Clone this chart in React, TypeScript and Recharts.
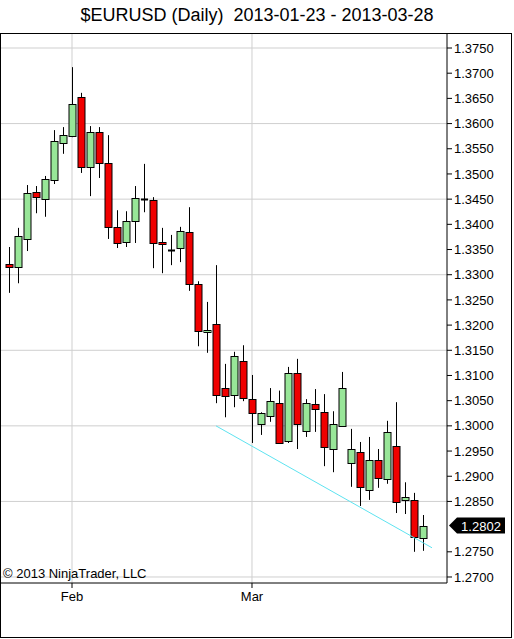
import { ComposedChart, Bar, XAxis, YAxis, CartesianGrid, ReferenceLine } from 'recharts'

// trading days shown on the chart
const days = [
  '2013-01-23', '2013-01-24', '2013-01-25', '2013-01-28', '2013-01-29', '2013-01-30', '2013-01-31',
  '2013-02-01', '2013-02-04', '2013-02-05', '2013-02-06', '2013-02-07', '2013-02-08', '2013-02-11',
  '2013-02-12', '2013-02-13', '2013-02-14', '2013-02-15', '2013-02-18', '2013-02-19', '2013-02-20',
  '2013-02-21', '2013-02-22', '2013-02-25', '2013-02-26', '2013-02-27', '2013-02-28', '2013-03-01',
  '2013-03-04', '2013-03-05', '2013-03-06', '2013-03-07', '2013-03-08', '2013-03-11', '2013-03-12',
  '2013-03-13', '2013-03-14', '2013-03-15', '2013-03-18', '2013-03-19', '2013-03-20', '2013-03-21',
  '2013-03-22', '2013-03-25', '2013-03-26', '2013-03-27', '2013-03-28',
]

const opens = [
  1.3321, 1.3315, 1.3371, 1.3464, 1.345, 1.3488, 1.3561, 1.3575, 1.3653, 1.3514, 1.3583, 1.3522,
  1.3395, 1.3365, 1.3407, 1.345, 1.3448, 1.3365, 1.3349, 1.3353, 1.3385, 1.3282, 1.3186, 1.3202,
  1.3075, 1.3061, 1.3129, 1.3053, 1.3003, 1.302, 1.3046, 1.297, 1.3105, 1.299, 1.3044, 1.3027,
  1.2954, 1.2999, 1.2926, 1.2948, 1.2873, 1.2932, 1.2894, 1.296, 1.2853, 1.2853, 1.2777,
]
const highs = [
  1.3355, 1.3393, 1.3478, 1.3476, 1.3496, 1.3587, 1.3593, 1.3712, 1.3661, 1.3595, 1.3593, 1.3577,
  1.3428, 1.3426, 1.3476, 1.352, 1.3454, 1.3393, 1.3379, 1.3395, 1.3434, 1.3287, 1.3246, 1.3319,
  1.3123, 1.3147, 1.316, 1.3101, 1.3027, 1.3075, 1.307, 1.3117, 1.3133, 1.3053, 1.3073, 1.3063,
  1.3029, 1.3107, 1.2994, 1.2968, 1.2978, 1.2954, 1.301, 1.3047, 1.2888, 1.2867, 1.2823,
]
const lows = [
  1.3264, 1.3283, 1.3347, 1.3422, 1.3415, 1.348, 1.354, 1.3573, 1.3502, 1.3456, 1.3492, 1.3371,
  1.3353, 1.3355, 1.3363, 1.3424, 1.3313, 1.3303, 1.3319, 1.3325, 1.3268, 1.3158, 1.3145, 1.3045,
  1.3017, 1.3037, 1.3049, 1.2966, 1.2982, 1.3008, 1.2964, 1.2966, 1.2954, 1.2978, 1.2988, 1.292,
  1.2908, 1.2998, 1.2879, 1.2841, 1.2853, 1.2877, 1.2885, 1.2827, 1.2825, 1.275, 1.2752,
]
const closes = [
  1.3315, 1.3377, 1.3462, 1.3454, 1.349, 1.3565, 1.3577, 1.3639, 1.3514, 1.3583, 1.3522, 1.3395,
  1.3363, 1.3407, 1.3452, 1.345, 1.3363, 1.3361, 1.3349, 1.3387, 1.3282, 1.3188, 1.319, 1.3061,
  1.3059, 1.3139, 1.3055, 1.3025, 1.3025, 1.305, 1.2966, 1.3105, 1.3003, 1.3046, 1.3034, 1.2958,
  1.3003, 1.3075, 1.2954, 1.2879, 1.2932, 1.2896, 1.2988, 1.2849, 1.2859, 1.2779, 1.2802,
]

// 1.2800 is hidden behind the last-price tag in the original
const priceTicks = [
  1.27, 1.275, 1.285, 1.29, 1.295, 1.3, 1.305, 1.31, 1.315, 1.32, 1.325,
  1.33, 1.335, 1.34, 1.345, 1.35, 1.355, 1.36, 1.365, 1.37, 1.375,
]
const gridPrices = [1.27, 1.285, 1.3, 1.315, 1.33, 1.345, 1.36, 1.375]
const monthDays = ['2013-02-01', '2013-03-01']
const monthLabels = ['Feb', 'Mar']

// hand-drawn trend line: [bar index, price]
const trendFrom = [23, 1.3]
const trendTo = [47, 1.2758]

const lastPrice = closes[closes.length - 1]

const data = days.map((day, i) => ({
  i,
  day,
  open: opens[i],
  high: highs[i],
  low: lows[i],
  close: closes[i],
}))

const monthIdx = monthDays.map((d) => days.indexOf(d))

const FONT = '"Liberation Sans", Arial, sans-serif'

function Candle(props: any) {
  const { x, y, width, height, payload } = props
  if (x == null || y == null) return null
  const { open, close, high, low } = payload
  const top0 = Math.min(y, y + height)
  const h = Math.abs(height)
  const yOf = (v: number) => top0 + ((high - v) / (high - low)) * h
  const cx = Math.round(x + width / 2) + 0.5
  const bTop = Math.round(yOf(Math.max(open, close))) + 0.5
  const bBot = Math.round(yOf(Math.min(open, close))) + 0.5
  const up = close >= open
  return (
    <g>
      <line x1={cx} x2={cx} y1={top0} y2={top0 + h} stroke="#000" strokeWidth={1} />
      {bBot - bTop < 1 ? (
        <line x1={cx - 3.5} x2={cx + 3.5} y1={bTop} y2={bTop} stroke="#000" strokeWidth={2} />
      ) : (
        <rect
          x={cx - 3.5}
          y={bTop}
          width={7}
          height={bBot - bTop}
          fill={up ? '#98e698' : '#f00000'}
          stroke="#000"
          strokeWidth={1}
        />
      )}
    </g>
  )
}

function PriceTag(props: any) {
  const { viewBox } = props
  if (!viewBox) return null
  const x0 = viewBox.x + viewBox.width + 2
  const y0 = viewBox.y
  return (
    <g>
      <polygon
        points={`${x0},${y0} ${x0 + 8},${y0 - 8} ${x0 + 56},${y0 - 8} ${x0 + 56},${y0 + 8} ${x0 + 8},${y0 + 8}`}
        fill="#000"
      />
      <text x={x0 + 32} y={y0 + 5} textAnchor="middle" fill="#fff" fontSize={13} fontFamily={FONT}>
        {lastPrice.toFixed(4)}
      </text>
    </g>
  )
}

export default function App() {
  return (
    <div style={{ position: 'absolute', left: 0, top: 0, width: 514, height: 639, background: '#fff', fontFamily: FONT }}>
      <div
        style={{
          position: 'absolute',
          left: 0,
          top: 5,
          width: 514,
          textAlign: 'center',
          fontSize: 18,
          whiteSpace: 'pre',
          color: '#000',
        }}
      >
        {'$EURUSD (Daily)  2013-01-23 - 2013-03-28'}
      </div>
      <div style={{ position: 'absolute', left: 0, top: 33 }}>
        <ComposedChart
          width={514}
          height={606}
          data={data}
          margin={{ top: 1, right: 2, bottom: 26, left: 1 }}
        >
          <CartesianGrid
            stroke="#cfcfcf"
            horizontalValues={gridPrices}
            verticalValues={monthIdx}
          />
          <XAxis
            dataKey="i"
            type="number"
            domain={[-0.889, 48.667]}
            ticks={monthIdx}
            tickFormatter={(v: number) => monthLabels[monthIdx.indexOf(v)]}
            height={30}
            tickSize={5}
            tickMargin={4}
            stroke="#000"
            tick={{ fill: '#000', fontSize: 13, fontFamily: FONT }}
            allowDataOverflow
          />
          <YAxis
            orientation="right"
            domain={[1.268809, 1.377779]}
            ticks={priceTicks}
            tickFormatter={(v: number) => v.toFixed(4)}
            width={65}
            tickSize={5}
            tickMargin={2}
            stroke="#000"
            tick={{ fill: '#000', fontSize: 13, fontFamily: FONT, textAnchor: 'start' }}
            allowDataOverflow
            interval={0}
          />
          <ReferenceLine
            segment={[
              { x: trendFrom[0], y: trendFrom[1] },
              { x: trendTo[0], y: trendTo[1] },
            ]}
            stroke="#5ee3f0"
            strokeWidth={1}
            ifOverflow="visible"
          />
          <Bar
            dataKey={(d: any) => [d.low, d.high]}
            barSize={7}
            shape={<Candle />}
            isAnimationActive={false}
          />
          <ReferenceLine y={lastPrice} stroke="none" label={<PriceTag />} />
        </ComposedChart>
      </div>
      <div
        style={{
          position: 'absolute',
          left: 0,
          top: 33,
          width: 512,
          height: 605,
          border: '1px solid #000',
          boxSizing: 'border-box',
          pointerEvents: 'none',
        }}
      />
      <div style={{ position: 'absolute', left: 3, top: 566, fontSize: 13, color: '#000' }}>
        © 2013 NinjaTrader, LLC
      </div>
    </div>
  )
}
